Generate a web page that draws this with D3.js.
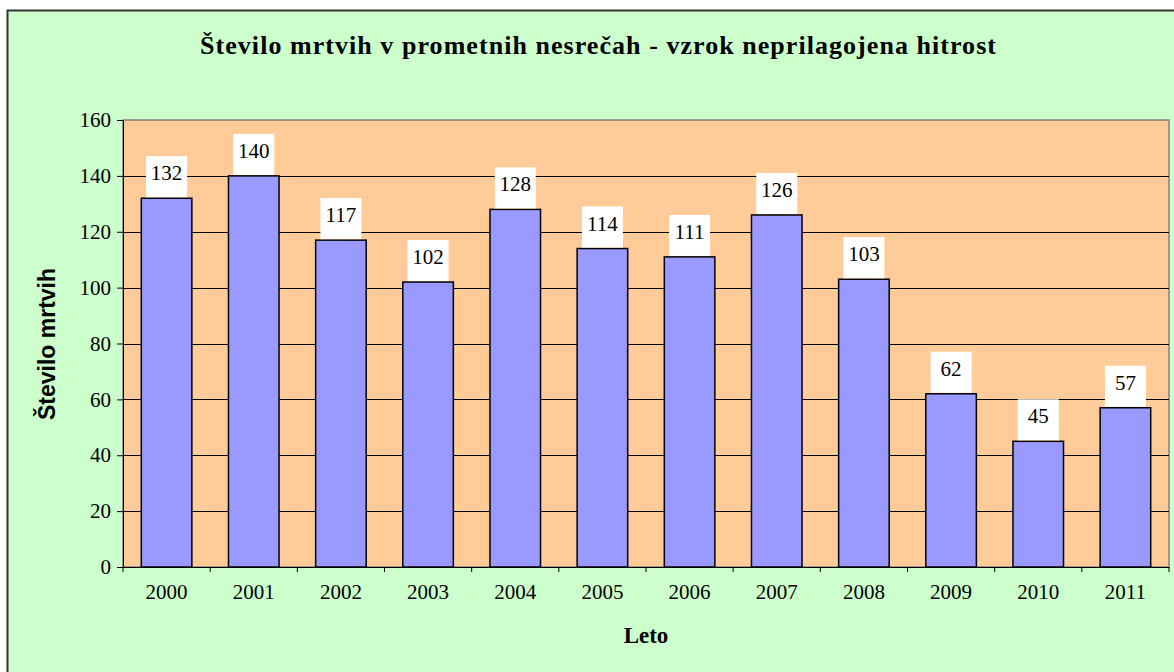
<!DOCTYPE html>
<html>
<head>
<meta charset="utf-8">
<script src="https://cdn.jsdelivr.net/npm/d3@7"></script>
<style>
  body { margin: 0; background: #fff; }
  svg { display: block; }
</style>
</head>
<body>
<div id="chart"></div>
<script>
// data
const years = ["2000", "2001", "2002", "2003", "2004", "2005", "2006", "2007", "2008", "2009", "2010", "2011"];
const deaths = [132, 140, 117, 102, 128, 114, 111, 126, 103, 62, 45, 57];
const yTicks = [0, 20, 40, 60, 80, 100, 120, 140, 160];
const title = "Število mrtvih v prometnih nesrečah - vzrok neprilagojena hitrost";
const xTitle = "Leto";
const yTitle = "Število mrtvih";

const W = 1174, H = 672;
const margin = {top: 120, right: 5, bottom: 105, left: 123};
const width = W - margin.left - margin.right,
      height = H - margin.top - margin.bottom;

const serif = "'Liberation Serif', 'Times New Roman', serif";

const svg = d3.select("#chart")
  .append("svg")
  .attr("width", W)
  .attr("height", H);

// outer chart area
svg.append("rect")
  .attr("x", 7.5).attr("y", 10.5)
  .attr("width", W + 10).attr("height", H + 10)
  .attr("fill", "#ccffcc")
  .attr("stroke", "#333")
  .attr("stroke-width", 2);

svg.append("text")
  .attr("x", 598).attr("y", 54)
  .attr("text-anchor", "middle")
  .attr("font-family", serif)
  .attr("font-weight", "bold")
  .attr("font-size", 26)
  .attr("textLength", 796)
  .attr("lengthAdjust", "spacing")
  .text(title);

const g = svg.append("g")
  .attr("transform", `translate(${margin.left}, ${margin.top})`);

const x = d3.scaleBand()
  .domain(years)
  .range([0, width])
  .paddingInner(0.42)
  .paddingOuter(0.21);

const xb = d3.scaleBand().domain(years).range([0, width]);

const y = d3.scaleLinear()
  .domain([0, 160])
  .range([height, 0]);

// plot area
g.append("rect")
  .attr("width", width).attr("height", height)
  .attr("fill", "#ffcc99")
  .attr("stroke", "#808080")
  .attr("stroke-width", 1.5);

// gridlines
g.append("g")
  .selectAll("line")
  .data(yTicks.slice(1, -1))
  .join("line")
  .attr("x1", 0).attr("x2", width)
  .attr("y1", d => Math.round(y(d)) + 0.5)
  .attr("y2", d => Math.round(y(d)) + 0.5)
  .attr("stroke", "#000");

// bars
g.append("g")
  .selectAll("rect")
  .data(deaths)
  .join("rect")
  .attr("x", (d, i) => x(years[i]))
  .attr("y", d => y(d))
  .attr("width", x.bandwidth())
  .attr("height", d => height - y(d))
  .attr("fill", "#9999ff")
  .attr("stroke", "#000")
  .attr("stroke-width", 1.5);

// value labels
const lab = g.append("g")
  .selectAll("g")
  .data(deaths)
  .join("g")
  .attr("transform", (d, i) => `translate(${x(years[i]) + x.bandwidth() / 2}, ${y(d)})`);

lab.append("rect")
  .attr("x", -20.5).attr("y", -42)
  .attr("width", 41).attr("height", 41)
  .attr("fill", "#fff");

lab.append("text")
  .attr("y", -18)
  .attr("text-anchor", "middle")
  .attr("font-family", serif)
  .attr("font-size", 21)
  .text(d => d);

// y axis
const yAxis = g.append("g")
  .call(d3.axisLeft(y).tickValues(yTicks).tickSize(6).tickPadding(6));
yAxis.select(".domain").attr("stroke", "#000");
yAxis.selectAll(".tick line").attr("stroke", "#000");
yAxis.selectAll("text")
  .attr("font-family", serif)
  .attr("font-size", 21)
  .attr("fill", "#000");

// x axis
const xAxis = g.append("g")
  .attr("transform", `translate(0, ${height})`)
  .call(d3.axisBottom(xb).tickSize(0).tickPadding(17));
xAxis.select(".domain").attr("stroke", "#000");
xAxis.selectAll("text")
  .attr("font-family", serif)
  .attr("font-size", 21)
  .attr("fill", "#000");

// x ticks at category boundaries
g.append("g")
  .selectAll("line")
  .data(years.concat(["end"]))
  .join("line")
  .attr("x1", (d, i) => i < years.length ? xb(d) : width)
  .attr("x2", (d, i) => i < years.length ? xb(d) : width)
  .attr("y1", height).attr("y2", height + 5)
  .attr("stroke", "#000");

// axis titles
svg.append("text")
  .attr("x", margin.left + width / 2).attr("y", 643)
  .attr("text-anchor", "middle")
  .attr("font-family", serif)
  .attr("font-weight", "bold")
  .attr("font-size", 23)
  .text(xTitle);

svg.append("text")
  .attr("transform", "translate(55, 344) rotate(-90)")
  .attr("text-anchor", "middle")
  .attr("font-family", "'Liberation Sans', Arial, sans-serif")
  .attr("font-weight", "bold")
  .attr("font-size", 23)
  .text(yTitle);
</script>
</body>
</html>
